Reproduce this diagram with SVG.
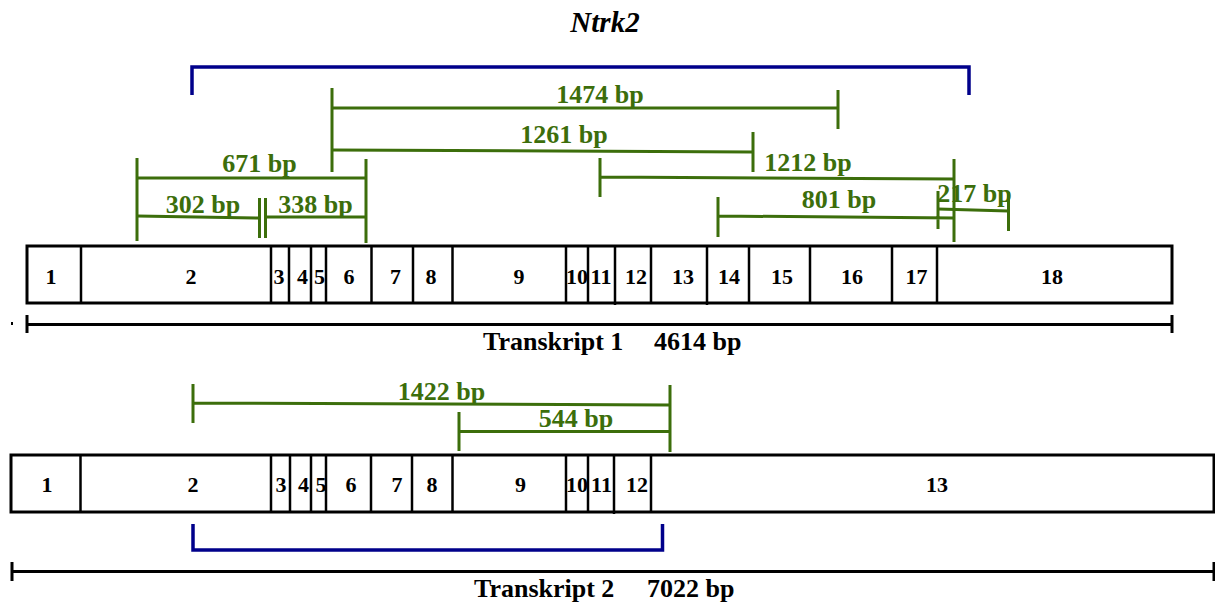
<svg xmlns="http://www.w3.org/2000/svg" width="1215" height="605" viewBox="0 0 1215 605">
<style>
  .box { fill: #ffffff; stroke: #000000; stroke-width: 3; }
  .div { stroke: #000000; stroke-width: 2.5; }
  .ex { font-family: "Liberation Serif", "Times New Roman", serif; font-weight: bold; font-size: 22px; fill: #000000; text-anchor: middle; }
  .scale { stroke: #000000; stroke-width: 3; fill: none; }
  .tl { font-family: "Liberation Serif", "Times New Roman", serif; font-weight: bold; font-size: 26px; fill: #000000; }
  .g { stroke: #3c6e0b; stroke-width: 3; fill: none; }
  .gt { font-family: "Liberation Serif", "Times New Roman", serif; font-weight: bold; font-size: 26px; fill: #3c6e0b; text-anchor: middle; }
  .b { stroke: #00008b; stroke-width: 3.5; fill: none; }
</style>

<g id="title">
  <text x="605" y="32" font-family="Liberation Serif, Times New Roman, serif" font-weight="bold" font-style="italic" font-size="29" text-anchor="middle" fill="#000">Ntrk2</text>
</g>

<g id="transcript1">
  <rect class="box" x="27" y="246" width="1145" height="57"/>
  <g class="div">
    <line x1="81" y1="246" x2="81" y2="303"/>
    <line x1="271" y1="246" x2="271" y2="303"/>
    <line x1="289" y1="246" x2="289" y2="303"/>
    <line x1="311" y1="246" x2="311" y2="303"/>
    <line x1="326" y1="246" x2="326" y2="303"/>
    <line x1="371.5" y1="246" x2="371.5" y2="303"/>
    <line x1="413" y1="246" x2="413" y2="303"/>
    <line x1="452.5" y1="246" x2="452.5" y2="303"/>
    <line x1="566" y1="246" x2="566" y2="303"/>
    <line x1="588" y1="246" x2="588" y2="303"/>
    <line x1="615" y1="246" x2="615" y2="305"/>
    <line x1="651" y1="246" x2="651" y2="303"/>
    <line x1="707" y1="246" x2="707" y2="305"/>
    <line x1="749" y1="246" x2="749" y2="303"/>
    <line x1="810" y1="246" x2="810" y2="303"/>
    <line x1="892" y1="246" x2="892" y2="303"/>
    <line x1="937" y1="246" x2="937" y2="303"/>
  </g>
  <g class="ex">
    <text x="51" y="284">1</text>
    <text x="191" y="284">2</text>
    <text x="279" y="284">3</text>
    <text x="302.5" y="284">4</text>
    <text x="319.5" y="284">5</text>
    <text x="349" y="284">6</text>
    <text x="395.5" y="284">7</text>
    <text x="431" y="284">8</text>
    <text x="519" y="284">9</text>
    <text x="577" y="284">10</text>
    <text x="601" y="284">11</text>
    <text x="636" y="284">12</text>
    <text x="683" y="284">13</text>
    <text x="729" y="284">14</text>
    <text x="782" y="284">15</text>
    <text x="852" y="284">16</text>
    <text x="916.5" y="284">17</text>
    <text x="1052" y="284">18</text>
  </g>
</g>

<g id="scale1">
  <rect x="11" y="322" width="2" height="3" fill="#000"/>
  <path class="scale" d="M27,324.5 H1172 M27,315 V333 M1172,315 V333"/>
  <text class="tl" y="350"><tspan x="483">Transkript 1</tspan><tspan x="654">4614 bp</tspan></text>
</g>

<g id="transcript2">
  <rect class="box" x="11" y="455" width="1203" height="57"/>
  <g class="div">
    <line x1="80.5" y1="455" x2="80.5" y2="512"/>
    <line x1="271" y1="455" x2="271" y2="512"/>
    <line x1="290" y1="455" x2="290" y2="512"/>
    <line x1="311" y1="455" x2="311" y2="512"/>
    <line x1="326" y1="455" x2="326" y2="512"/>
    <line x1="371" y1="455" x2="371" y2="512"/>
    <line x1="412" y1="455" x2="412" y2="512"/>
    <line x1="452.5" y1="455" x2="452.5" y2="512"/>
    <line x1="566" y1="455" x2="566" y2="512"/>
    <line x1="588" y1="455" x2="588" y2="512"/>
    <line x1="614" y1="455" x2="614" y2="514"/>
    <line x1="651" y1="455" x2="651" y2="512"/>
  </g>
  <g class="ex">
    <text x="47" y="492">1</text>
    <text x="193" y="492">2</text>
    <text x="281" y="492">3</text>
    <text x="303.5" y="492">4</text>
    <text x="321" y="492">5</text>
    <text x="351" y="492">6</text>
    <text x="397" y="492">7</text>
    <text x="432" y="492">8</text>
    <text x="520.5" y="492">9</text>
    <text x="577" y="492">10</text>
    <text x="601.5" y="492">11</text>
    <text x="637" y="492">12</text>
    <text x="937" y="492">13</text>
  </g>
</g>

<g id="scale2">
  <path class="scale" d="M12,571.5 H1214 M12,562 V581 M1214,562 V581" />
  <text class="tl" y="597"><tspan x="474">Transkript 2</tspan><tspan x="647">7022 bp</tspan></text>
</g>

<g id="connectors">
  <!-- blue brackets -->
  <path class="b" d="M192,95 V67 H969 V95"/>
  <path class="b" d="M193,524 V550 H662.5 V524"/>

  <!-- transcript 1 amplicons -->
  <g id="amp1474">
    <path class="g" d="M332,88 V172 M332,108 H838 M838,90 V129"/>
    <text class="gt" x="600" y="103">1474 bp</text>
  </g>
  <g id="amp1261">
    <path class="g" d="M332,150 L753,152 M753,132 V172"/>
    <text class="gt" x="564" y="143">1261 bp</text>
  </g>
  <g id="amp671">
    <path class="g" d="M137,158 V241 M137,178 H366 M366,159 V243"/>
    <text class="gt" x="259.5" y="172">671 bp</text>
  </g>
  <g id="amp302">
    <path class="g" d="M137,216 L259.5,218 M259.5,198 V238"/>
    <text class="gt" x="203" y="213">302 bp</text>
  </g>
  <g id="amp338">
    <path class="g" d="M265.5,198 V238 M265.5,217 H366"/>
    <text class="gt" x="315.5" y="213">338 bp</text>
  </g>
  <g id="amp1212">
    <path class="g" d="M600,158 V197 M600,177 L954,179 M954,159 V242"/>
    <text class="gt" x="808" y="171">1212 bp</text>
  </g>
  <g id="amp801">
    <path class="g" d="M718,197 V237 M718,216 L954,218 M938,191 V229"/>
    <text class="gt" x="839" y="208">801 bp</text>
  </g>
  <g id="amp217">
    <path class="g" d="M938,209 L1008.5,211 M1008.5,192 V231"/>
    <text class="gt" x="974.5" y="202" font-size="23">217 bp</text>
  </g>

  <!-- transcript 2 amplicons -->
  <g id="amp1422">
    <path class="g" d="M193,384 V423 M193,403 L670,405 M670,385 V452"/>
    <text class="gt" x="441.5" y="400">1422 bp</text>
  </g>
  <g id="amp544">
    <path class="g" d="M459,412 V451 M459,431.5 H670"/>
    <text class="gt" x="576" y="427">544 bp</text>
  </g>
</g>
</svg>
